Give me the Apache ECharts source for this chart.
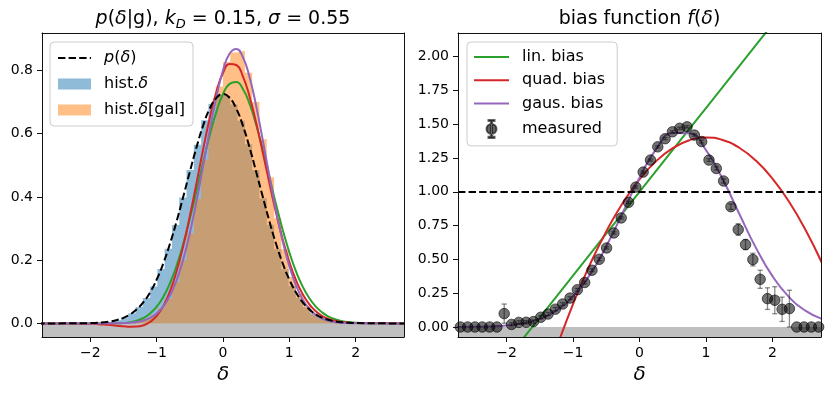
<!DOCTYPE html>
<html>
<head>
<meta charset="utf-8">
<script src="https://cdn.jsdelivr.net/npm/echarts@6/dist/echarts.min.js"></script>
<style>
  html, body { margin: 0; padding: 0; background: #fff; }
  #chart { width: 831px; height: 395px; }
</style>
</head>
<body>
<div id="chart"></div>
<script>
// ---- data ----
const binCenters = [-2.695, -2.585, -2.475, -2.365, -2.255, -2.145, -2.035, -1.925, -1.815, -1.705,
    -1.595, -1.485, -1.375, -1.265, -1.155, -1.045, -0.935, -0.825, -0.715, -0.605,
    -0.495, -0.385, -0.275, -0.165, -0.055, 0.055, 0.165, 0.275, 0.385, 0.495,
    0.605, 0.715, 0.825, 0.935, 1.045, 1.155, 1.265, 1.375, 1.485, 1.595,
    1.705, 1.815, 1.925, 2.035, 2.145, 2.255, 2.365, 2.475, 2.585, 2.695];
const binHalf = 0.055;

const histDelta = [0, 0, 0, 0, 0.0002, 0.0004, 0.0008, 0.0016, 0.003, 0.006,
    0.011, 0.019, 0.032, 0.052, 0.080, 0.117, 0.172, 0.236, 0.311, 0.398,
    0.485, 0.565, 0.642, 0.694, 0.722, 0.719, 0.692, 0.641, 0.566, 0.485,
    0.396, 0.312, 0.234, 0.171, 0.119, 0.080, 0.051, 0.032, 0.019, 0.011,
    0.006, 0.003, 0.0016, 0.0008, 0.0004, 0.0002, 0, 0, 0, 0];
const histGal = [0, 0, 0, 0, 0, 0, 0.0001, 0, 0.0001, 0.0002,
    0.0004, 0.0014, 0.0029, 0.007, 0.0138, 0.026, 0.048, 0.078, 0.131, 0.199,
    0.284, 0.393, 0.518, 0.638, 0.749, 0.826, 0.856, 0.862, 0.792, 0.700,
    0.582, 0.462, 0.332, 0.234, 0.147, 0.094, 0.055, 0.028, 0.014, 0.0067,
    0.003, 0.0011, 0.0003, 0.0001, 0, 0, 0, 0, 0, 0];

const pdfX = [-2.8, -2.4, -2.0, -1.9, -1.8, -1.7, -1.6, -1.5, -1.4, -1.3, -1.2, -1.1, -1.0,
    -0.9, -0.8, -0.7, -0.6, -0.5, -0.4, -0.3, -0.2, -0.1, 0, 0.1, 0.2, 0.3, 0.4, 0.5,
    0.6, 0.7, 0.8, 0.9, 1.0, 1.1, 1.2, 1.3, 1.4, 1.5, 1.6, 1.7, 1.8, 1.9, 2.0, 2.4, 2.8];
const pDelta = [0, 0.0001, 0.0010, 0.0019, 0.0034, 0.0061, 0.0105, 0.0176, 0.0284, 0.0444, 0.0671, 0.0981, 0.1388,
    0.1901, 0.2517, 0.3226, 0.400, 0.4796, 0.5565, 0.625, 0.679, 0.713, 0.725, 0.713, 0.679, 0.625, 0.5565, 0.4796,
    0.400, 0.3226, 0.2517, 0.1901, 0.1388, 0.0981, 0.0671, 0.0444, 0.0284, 0.0176, 0.0105, 0.0061, 0.0034, 0.0019, 0.0010, 0.0001, 0];
const pLin = [0, 0, -0.0002, -0.0003, -0.0004, -0.0003, 0.0001, 0.0012, 0.0037, 0.0086, 0.0172, 0.0312, 0.0527,
    0.0840, 0.1269, 0.1826, 0.2512, 0.3309, 0.4185, 0.5088, 0.5948, 0.6688, 0.725, 0.7572, 0.7632, 0.7413, 0.6945, 0.6283,
    0.5488, 0.4626, 0.3765, 0.2962, 0.2249, 0.1650, 0.1170, 0.0802, 0.0531, 0.0340, 0.0209, 0.0125, 0.0072, 0.0041, 0.0022, 0.0001, 0];
const pQuad = [0, -0.0002, -0.0014, -0.0022, -0.0034, -0.0051, -0.0071, -0.0092, -0.0105, -0.0101, -0.0059, 0.0043, 0.0235,
    0.0550, 0.1014, 0.1647, 0.2448, 0.3393, 0.4433, 0.5498, 0.6495, 0.7325, 0.7917, 0.8203, 0.8168, 0.7808, 0.7175, 0.6347,
    0.5405, 0.4429, 0.3495, 0.2658, 0.1945, 0.1372, 0.0933, 0.0610, 0.0384, 0.0233, 0.0136, 0.0076, 0.0041, 0.0022, 0.0011, 0.0001, 0];
const pGaus = [0, 0, 0, 0, 0.0001, 0.0002, 0.0005, 0.0011, 0.0023, 0.0047, 0.0093, 0.0175, 0.0313,
    0.0536, 0.0875, 0.1361, 0.2019, 0.2858, 0.3859, 0.4970, 0.6107, 0.7156, 0.8000, 0.853, 0.8678, 0.8418, 0.779, 0.6877,
    0.5791, 0.4653, 0.3565, 0.2605, 0.1817, 0.1208, 0.0767, 0.0464, 0.0268, 0.0147, 0.0077, 0.0039, 0.0019, 0.0008, 0.0004, 0, 0];

const biasX = [-2.75, -2.5, -2.25, -2.0, -1.75, -1.5, -1.25, -1.0, -0.75, -0.5, -0.25, 0,
    0.25, 0.5, 0.75, 1.0, 1.25, 1.5, 1.75, 2.0, 2.25, 2.5, 2.75];
const linBias = [-0.705, -0.55, -0.395, -0.24, -0.085, 0.07, 0.225, 0.38, 0.535, 0.69, 0.845, 1.0,
    1.155, 1.31, 1.465, 1.62, 1.775, 1.93, 2.085, 2.24, 2.395, 2.55, 2.705];
const quadBias = [-2.92, -2.364, -1.846, -1.366, -0.925, -0.522, -0.157, 0.170, 0.458, 0.707, 0.919, 1.092,
    1.227, 1.323, 1.382, 1.402, 1.383, 1.326, 1.231, 1.098, 0.926, 0.716, 0.468];
const gausBias = [0.0005, 0.0015, 0.0043, 0.0112, 0.027, 0.060, 0.122, 0.226, 0.384, 0.597, 0.848, 1.105,
    1.316, 1.435, 1.433, 1.309, 1.095, 0.838, 0.587, 0.376, 0.221, 0.119, 0.058];

const measured = [0, 0, 0, 0, 0, 0, 0.099, 0.019, 0.034, 0.035,
    0.040, 0.072, 0.096, 0.132, 0.170, 0.214, 0.276, 0.329, 0.420, 0.501,
    0.585, 0.696, 0.807, 0.922, 1.035, 1.146, 1.235, 1.333, 1.393, 1.444,
    1.470, 1.481, 1.420, 1.372, 1.235, 1.173, 1.080, 0.890, 0.721, 0.610,
    0.499, 0.353, 0.210, 0.198, 0.131, 0.136, 0, 0, 0, 0];
const measuredErr = [0, 0, 0, 0, 0, 0, 0.071, 0.012, 0.012, 0.012,
    0.012, 0.012, 0.012, 0.012, 0.01, 0.01, 0.01, 0.01, 0.01, 0.01,
    0.008, 0.008, 0.008, 0.008, 0.008, 0.008, 0.008, 0.008, 0.008, 0.008,
    0.008, 0.008, 0.008, 0.01, 0.01, 0.012, 0.015, 0.02, 0.043, 0.037,
    0.047, 0.067, 0.08, 0.1, 0.09, 0.136, 0, 0, 0, 0];

const xTicks = [-2, -1, 0, 1, 2];
const yTicksLeft = [0, 0.2, 0.4, 0.6, 0.8];
const yTicksRight = [0, 0.25, 0.5, 0.75, 1.0, 1.25, 1.5, 1.75, 2.0];

// ---- helpers ----
const FONT = 'DejaVu Sans';
const pairs = (xs, ys) => xs.map((x, i) => [x, ys[i]]);
const stepData = (vals) => binCenters.map((c, i) => [c - binHalf, vals[i]])
    .concat([[binCenters[binCenters.length - 1] + binHalf, vals[vals.length - 1]]]);
const signed = (v, d) => (v < 0 ? '\u2212' : '') + Math.abs(v).toFixed(d);

const mainX = (gridIndex) => ({
    type: 'value', gridIndex, min: -2.73, max: 2.73, z: 10,
    axisLine: {show: true, onZero: false, lineStyle: {color: '#111', width: 1}},
    axisTick: {show: true, inside: false, length: 5, customValues: xTicks, lineStyle: {color: '#111'}},
    axisLabel: {customValues: xTicks, margin: 9, color: '#000', fontSize: 14, fontFamily: FONT,
        formatter: v => signed(v, 0)},
    splitLine: {show: false},
    name: 'δ', nameLocation: 'middle', nameGap: 27,
    nameTextStyle: {fontSize: 20, fontStyle: 'italic', fontFamily: FONT, color: '#000'},
});
const mainY = (gridIndex, min, max, ticks, dec) => ({
    type: 'value', gridIndex, min, max, z: 10,
    axisLine: {show: true, onZero: false, lineStyle: {color: '#111', width: 1}},
    axisTick: {show: true, inside: false, length: 5, customValues: ticks, lineStyle: {color: '#111'}},
    axisLabel: {customValues: ticks, margin: 9, color: '#000', fontSize: 14, fontFamily: FONT,
        formatter: v => signed(v, dec)},
    splitLine: {show: false},
});
const frameAxis = (gridIndex, position) => ({
    type: 'value', gridIndex, position, min: 0, max: 1, z: 10,
    axisLine: {show: true, onZero: false, lineStyle: {color: '#111', width: 1}},
    axisTick: {show: false}, axisLabel: {show: false}, splitLine: {show: false},
});

const greyBand = {
    silent: true, z: 1,
    itemStyle: {color: '#bfbfbf', opacity: 1},
    data: [[{yAxis: -5}, {yAxis: 0}]],
};

const legendNames = {
    'p(δ)': '{i|p}({i|δ})',
    'hist.δ': 'hist.{i|δ}',
    'hist.δ[gal]': 'hist.{i|δ}[gal]',
};
const legendBase = {
    orient: 'vertical', selectedMode: false,
    backgroundColor: 'rgba(255,255,255,0.8)', borderColor: '#cccccc', borderWidth: 1, borderRadius: 4,
    // hide the circle that line series put on their legend line
    itemStyle: {opacity: 0},
    textStyle: {fontSize: 16, fontFamily: FONT, color: '#000', lineHeight: 16,
        rich: {
            g: {width: 8, fontSize: 16, fontFamily: FONT},
            i: {fontStyle: 'italic', fontSize: 16, fontFamily: FONT, color: '#000'},
        }},
    formatter: name => '{g| }' + (legendNames[name] || name),
};

const chart = echarts.init(document.getElementById('chart'));
chart.setOption({
    animation: false,
    backgroundColor: '#fff',
    textStyle: {fontFamily: FONT},
    grid: [
        {left: 42, right: 427, top: 33, bottom: 58},
        {left: 458, right: 10, top: 33, bottom: 58},
    ],
    xAxis: [mainX(0), frameAxis(0, 'top'), mainX(1), frameAxis(1, 'top')],
    yAxis: [
        mainY(0, -0.043, 0.918, yTicksLeft, 1), frameAxis(0, 'right'),
        mainY(1, -0.074, 2.175, yTicksRight, 2), frameAxis(1, 'right'),
    ],
    legend: [
        Object.assign({}, legendBase, {
            left: 50, top: 42, itemWidth: 33, itemHeight: 11, itemGap: 10, padding: [8, 8, 8, 7],
            data: [
                {name: 'p(δ)'},
                {name: 'hist.δ', icon: 'rect', itemStyle: {color: 'rgba(31,119,180,0.5)', opacity: 1}},
                {name: 'hist.δ[gal]', icon: 'rect', itemStyle: {color: 'rgba(255,127,14,0.5)', opacity: 1}},
            ],
        }),
        Object.assign({}, legendBase, {
            left: 467, top: 42, itemWidth: 35, itemHeight: 18, itemGap: 7.3, padding: [7, 12, 7, 6],
            data: [
                {name: 'lin. bias'},
                {name: 'quad. bias'},
                {name: 'gaus. bias'},
                {name: 'measured',
                    icon: 'path://M4.4,0 H5.6 V18 H4.4 Z M2,0 H8 V1.1 H2 Z M2,16.9 H8 V18 H2 Z M0,9 A5,5 0 1,0 10,9 A5,5 0 1,0 0,9 Z',
                    itemStyle: {color: 'rgba(0,0,0,0.6)', opacity: 1}},
            ],
        }),
    ],
    graphic: [
        {type: 'text', x: 223, y: 19, z: 20, style: {
            text: '{i|p}({i|δ}|g), {i|k}{s|D} = 0.15, {i|σ} = 0.55',
            align: 'center', verticalAlign: 'middle', fill: '#000',
            fontSize: 19, fontFamily: FONT, lineHeight: 24,
            rich: {
                i: {fontStyle: 'italic', fontSize: 19, fontFamily: FONT, lineHeight: 24, verticalAlign: 'middle'},
                s: {fontStyle: 'italic', fontSize: 13, fontFamily: FONT, verticalAlign: 'bottom'},
            }}},
        {type: 'text', x: 639.5, y: 19, z: 20, style: {
            text: 'bias function {i|f}({i|δ})',
            align: 'center', verticalAlign: 'middle', fill: '#000',
            fontSize: 19, fontFamily: FONT, lineHeight: 24,
            rich: {
                i: {fontStyle: 'italic', fontSize: 19, fontFamily: FONT, lineHeight: 24, verticalAlign: 'middle'},
            }}},
    ],
    series: [
        // ---- left panel ----
        {name: 'hist.δ', type: 'line', xAxisIndex: 0, yAxisIndex: 0, step: 'end', symbol: 'none',
            data: stepData(histDelta), z: 2,
            lineStyle: {width: 0}, itemStyle: {color: 'rgba(31,119,180,0.5)'},
            areaStyle: {color: 'rgba(31,119,180,0.5)', opacity: 1},
            markArea: greyBand},
        {name: 'hist.δ[gal]', type: 'line', xAxisIndex: 0, yAxisIndex: 0, step: 'end', symbol: 'none',
            data: stepData(histGal), z: 2,
            lineStyle: {width: 0}, itemStyle: {color: 'rgba(255,127,14,0.5)'},
            areaStyle: {color: 'rgba(255,127,14,0.5)', opacity: 1}},
        {name: 'p(δ)', type: 'line', xAxisIndex: 0, yAxisIndex: 0, symbol: 'none', smooth: true, z: 4,
            data: pairs(pdfX, pDelta), itemStyle: {color: '#000'},
            lineStyle: {color: '#000', width: 2, type: [7.4, 3.2]}},
        {name: 'lin (left)', type: 'line', xAxisIndex: 0, yAxisIndex: 0, symbol: 'none', smooth: true, z: 3,
            data: pairs(pdfX, pLin), lineStyle: {color: '#2ca02c', width: 2}},
        {name: 'quad (left)', type: 'line', xAxisIndex: 0, yAxisIndex: 0, symbol: 'none', smooth: true, z: 3,
            data: pairs(pdfX, pQuad), lineStyle: {color: '#d62728', width: 2}},
        {name: 'gaus (left)', type: 'line', xAxisIndex: 0, yAxisIndex: 0, symbol: 'none', smooth: true, z: 3,
            data: pairs(pdfX, pGaus), lineStyle: {color: '#9467bd', width: 2}},

        // ---- right panel ----
        {name: 'lin. bias', type: 'line', xAxisIndex: 2, yAxisIndex: 2, symbol: 'none', z: 3,
            data: pairs(biasX, linBias), itemStyle: {color: '#2ca02c'},
            lineStyle: {color: '#2ca02c', width: 2}, markArea: greyBand,
            markLine: {silent: true, symbol: ['none', 'none'], label: {show: false}, z: 4,
                lineStyle: {color: '#000', width: 2, type: [7.4, 3.2]},
                data: [{yAxis: 1}]}},
        {name: 'quad. bias', type: 'line', xAxisIndex: 2, yAxisIndex: 2, symbol: 'none', smooth: true, z: 3,
            data: pairs(biasX, quadBias), itemStyle: {color: '#d62728'},
            lineStyle: {color: '#d62728', width: 2}},
        {name: 'gaus. bias', type: 'line', xAxisIndex: 2, yAxisIndex: 2, symbol: 'none', smooth: true, z: 3,
            data: pairs(biasX, gausBias), itemStyle: {color: '#9467bd'},
            lineStyle: {color: '#9467bd', width: 2}},
        {name: 'measured err', type: 'custom', xAxisIndex: 2, yAxisIndex: 2, z: 6, clip: true, silent: true,
            data: binCenters.map((c, i) => [c, measured[i], measuredErr[i]]),
            encode: {x: 0, y: 1},
            renderItem: (params, api) => {
                const e = api.value(2);
                if (!(e > 0)) return null;
                const x = api.value(0), y = api.value(1);
                const top = api.coord([x, y + e]);
                const bot = api.coord([x, y - e]);
                const st = {stroke: 'rgba(0,0,0,0.45)', lineWidth: 1.3};
                return {type: 'group', children: [
                    {type: 'line', shape: {x1: top[0], y1: top[1], x2: bot[0], y2: bot[1]}, style: st},
                    {type: 'line', shape: {x1: top[0] - 2.6, y1: top[1], x2: top[0] + 2.6, y2: top[1]}, style: st},
                    {type: 'line', shape: {x1: bot[0] - 2.6, y1: bot[1], x2: bot[0] + 2.6, y2: bot[1]}, style: st},
                ]};
            }},
        {name: 'measured', type: 'scatter', xAxisIndex: 2, yAxisIndex: 2, z: 7,
            data: pairs(binCenters, measured), symbolSize: 10.5,
            itemStyle: {color: 'rgba(0,0,0,0.55)', borderColor: 'rgba(0,0,0,0.6)', borderWidth: 1, opacity: 1}},
    ],
});
</script>
</body>
</html>
